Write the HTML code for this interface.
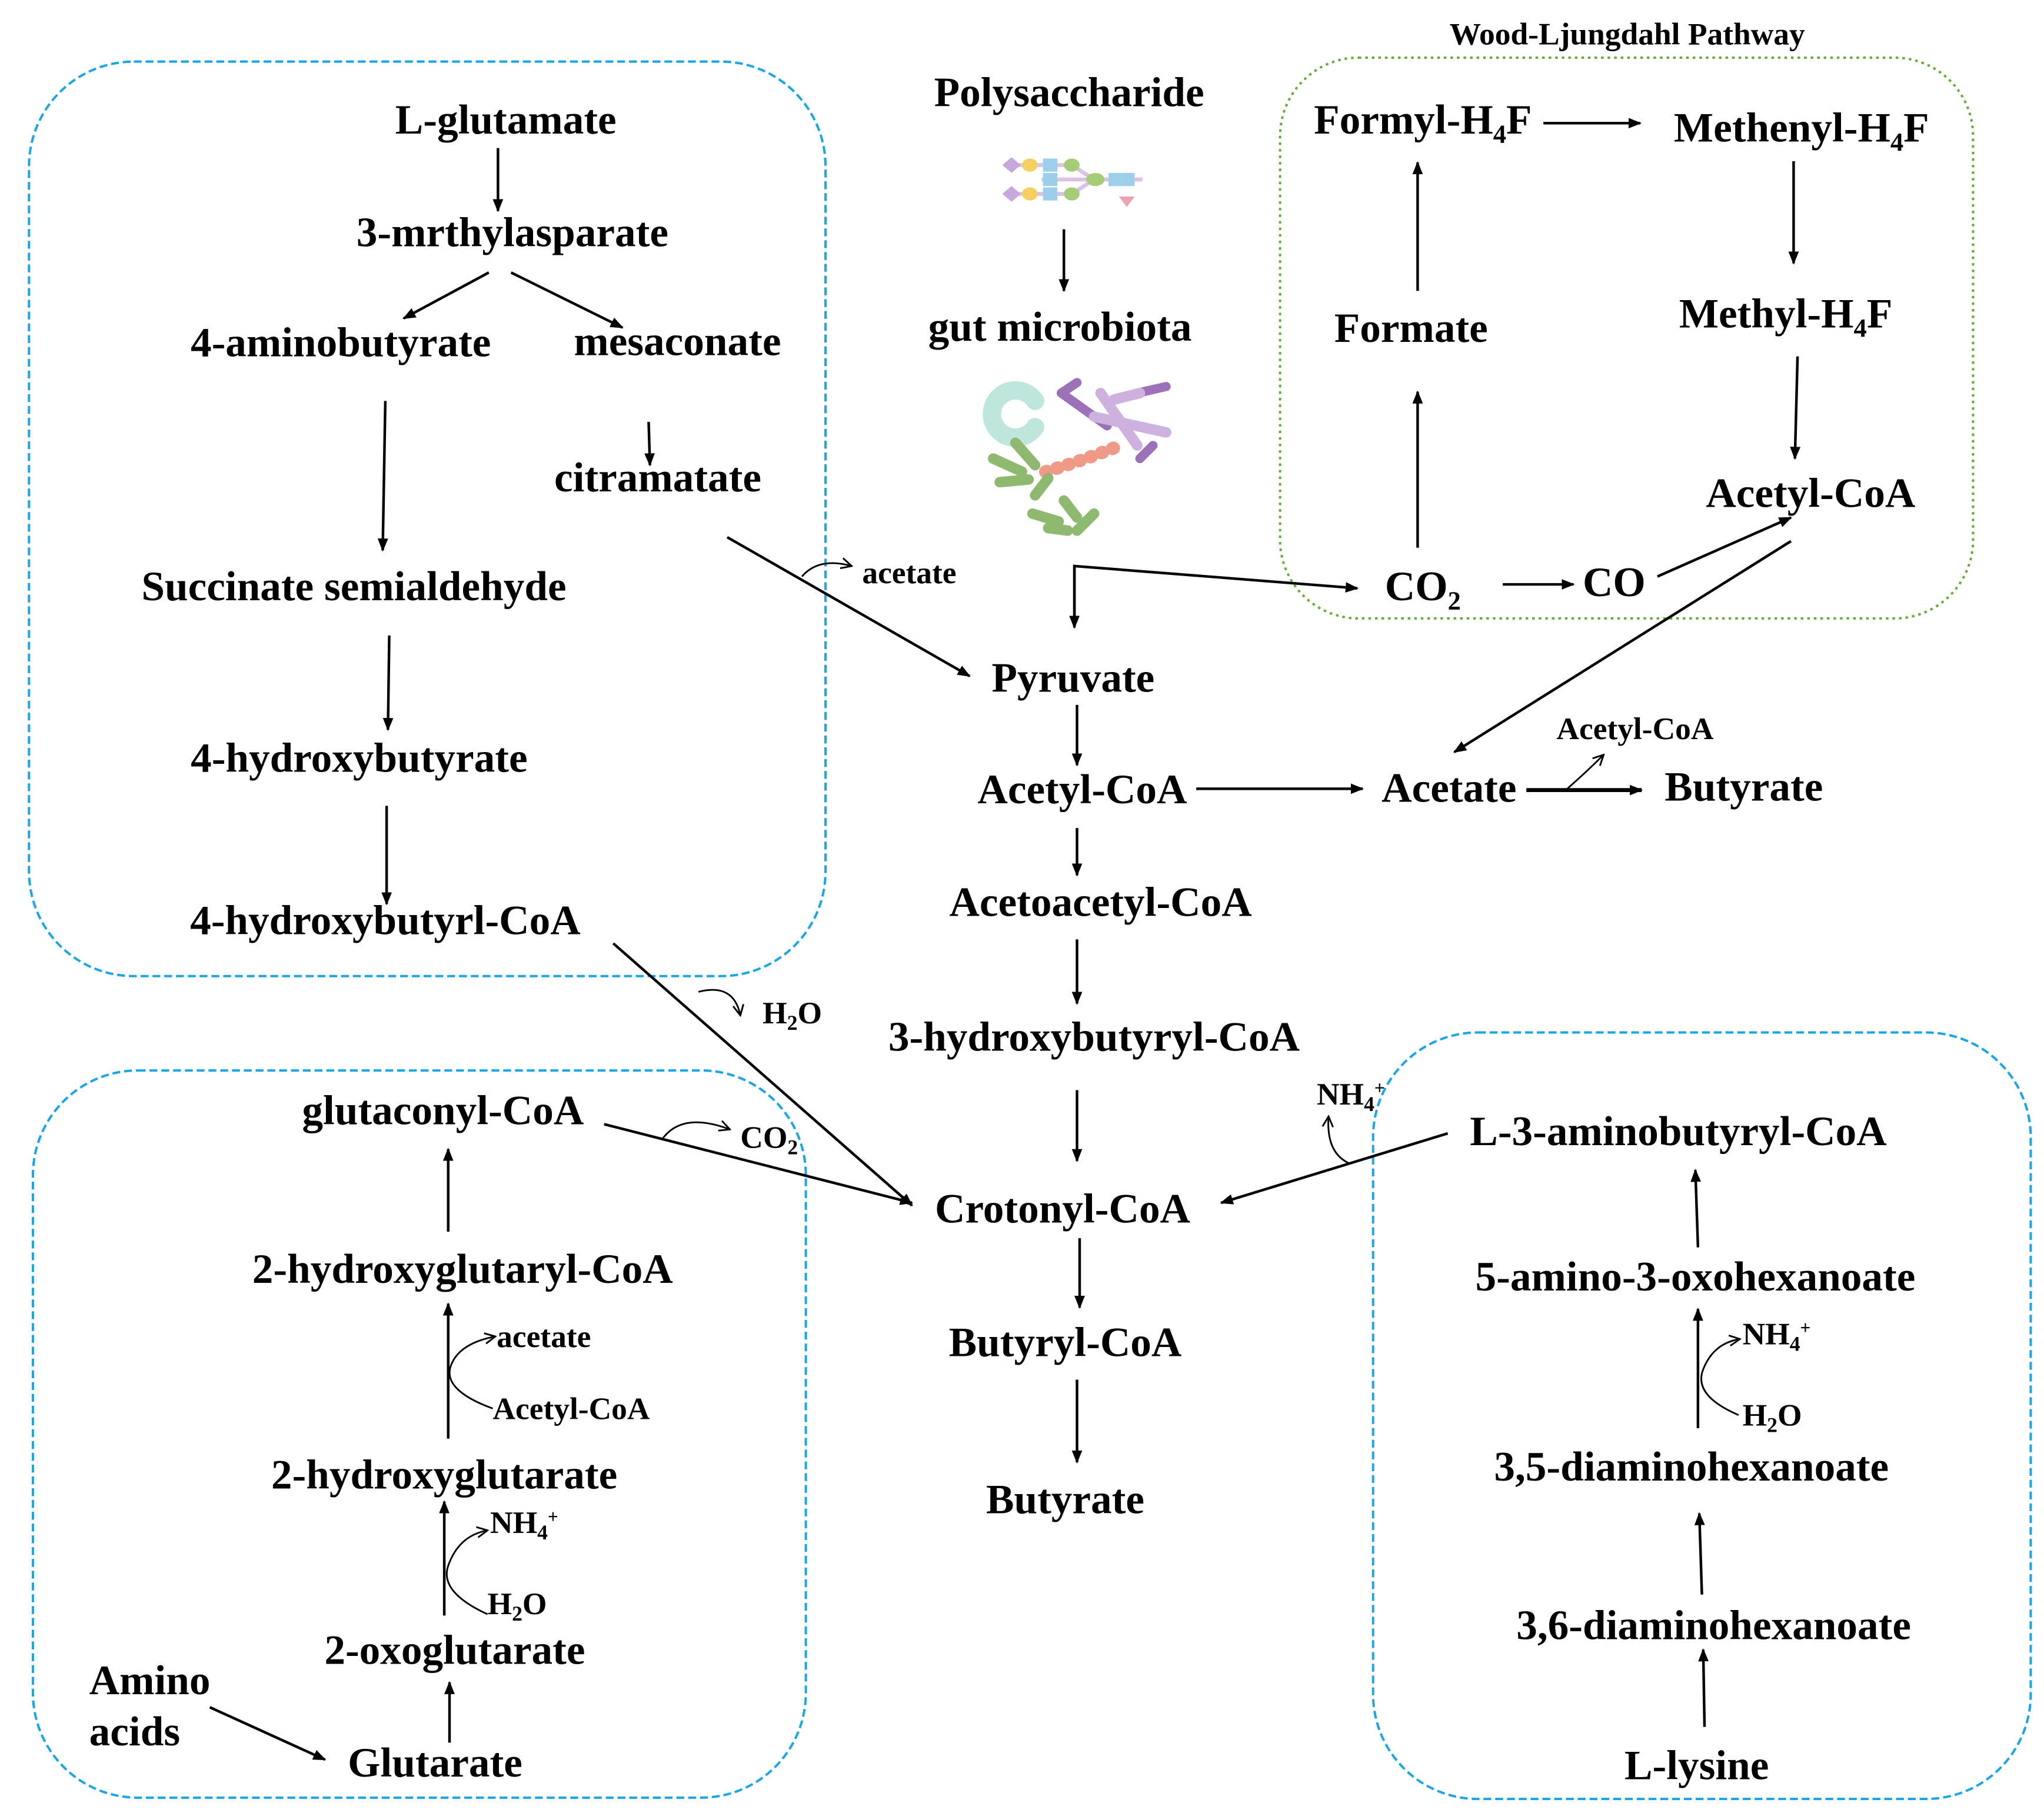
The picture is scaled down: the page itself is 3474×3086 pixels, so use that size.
<!DOCTYPE html>
<html><head><meta charset="utf-8"><style>
html,body{margin:0;padding:0;background:#fff;}
svg{display:block;}
text{font-family:"Liberation Serif",serif;font-weight:bold;fill:#000;}
</style></head><body>
<svg width="3474" height="3086" viewBox="0 0 1560 1386" xmlns="http://www.w3.org/2000/svg">
<defs>
<marker id="a" markerWidth="10" markerHeight="10" refX="9" refY="5" orient="auto" markerUnits="userSpaceOnUse" viewBox="0 0 10 10"><path d="M0,1 L10,5 L0,9 z" fill="#000"/></marker>
<marker id="o" markerWidth="10" markerHeight="10" refX="9" refY="5" orient="auto" markerUnits="userSpaceOnUse" viewBox="0 0 10 10"><path d="M1,1 L9,5 L1,9" fill="none" stroke="#000" stroke-width="1.3"/></marker>
</defs>
<!-- boxes -->
<g fill="none" stroke="#1aa6e6" stroke-width="1.8" stroke-dasharray="6,3">
<rect x="22" y="47" width="608" height="698" rx="80"/>
<rect x="25" y="817" width="590" height="555" rx="80"/>
<rect x="1048" y="788" width="502" height="585" rx="80"/>
</g>
<rect x="977" y="44" width="529" height="428" rx="60" fill="none" stroke="#6aaa3a" stroke-width="1.8" stroke-dasharray="2,3"/>
<text x="1242" y="34" font-size="24" text-anchor="middle">Wood-Ljungdahl Pathway</text>

<g font-size="32" text-anchor="middle">
<text x="386" y="102">L-glutamate</text>
<text x="391" y="188">3-mrthylasparate</text>
<text x="260" y="272">4-aminobutyrate</text>
<text x="517" y="271">mesaconate</text>
<text x="502" y="375">citramatate</text>
<text x="270" y="458">Succinate semialdehyde</text>
<text x="274" y="589">4-hydroxybutyrate</text>
<text x="294" y="713">4-hydroxybutyrl-CoA</text>
<text x="816" y="81">Polysaccharide</text>
<text x="809" y="260">gut microbiota</text>
<text x="819" y="528">Pyruvate</text>
<text x="826" y="613">Acetyl-CoA</text>
<text x="1106" y="612">Acetate</text>
<text x="1331" y="611">Butyrate</text>
<text x="840" y="699">Acetoacetyl-CoA</text>
<text x="835" y="802">3-hydroxybutyryl-CoA</text>
<text x="811" y="933">Crotonyl-CoA</text>
<text x="813" y="1035">Butyryl-CoA</text>
<text x="813" y="1155">Butyrate</text>
<text x="1086" y="102">Formyl-H<tspan font-size="20" dy="7">4</tspan><tspan dy="-7">F</tspan></text>
<text x="1375" y="108">Methenyl-H<tspan font-size="20" dy="7">4</tspan><tspan dy="-7">F</tspan></text>
<text x="1077" y="261">Formate</text>
<text x="1363" y="250">Methyl-H<tspan font-size="20" dy="7">4</tspan><tspan dy="-7">F</tspan></text>
<text x="1382" y="387">Acetyl-CoA</text>
<text x="1086" y="458">CO<tspan font-size="20" dy="7">2</tspan></text>
<text x="1232" y="455">CO</text>
<text x="338" y="858">glutaconyl-CoA</text>
<text x="353" y="979">2-hydroxyglutaryl-CoA</text>
<text x="339" y="1136">2-hydroxyglutarate</text>
<text x="347" y="1270">2-oxoglutarate</text>
<text x="332" y="1356">Glutarate</text>
<text x="1281" y="874">L-3-aminobutyryl-CoA</text>
<text x="1294" y="985">5-amino-3-oxohexanoate</text>
<text x="1291" y="1130">3,5-diaminohexanoate</text>
<text x="1308" y="1251">3,6-diaminohexanoate</text>
<text x="1295" y="1358">L-lysine</text>
</g>
<text x="68" y="1293" font-size="32">Amino</text>
<text x="68" y="1332" font-size="32">acids</text>

<g font-size="24">
<text x="658" y="445">acetate</text>
<text x="582" y="781">H<tspan font-size="16" dy="5">2</tspan><tspan dy="-5">O</tspan></text>
<text x="565" y="876">CO<tspan font-size="16" dy="5">2</tspan></text>
<text x="379" y="1028">acetate</text>
<text x="376" y="1083">Acetyl-CoA</text>
<text x="374" y="1170">NH<tspan font-size="16" dy="5">4</tspan><tspan font-size="14" dy="-13">+</tspan></text>
<text x="372" y="1232">H<tspan font-size="16" dy="5">2</tspan><tspan dy="-5">O</tspan></text>
<text x="1005" y="843">NH<tspan font-size="16" dy="5">4</tspan><tspan font-size="14" dy="-13">+</tspan></text>
<text x="1330" y="1026">NH<tspan font-size="16" dy="5">4</tspan><tspan font-size="14" dy="-13">+</tspan></text>
<text x="1330" y="1088">H<tspan font-size="16" dy="5">2</tspan><tspan dy="-5">O</tspan></text>
<text x="1188" y="564">Acetyl-CoA</text>
</g>

<!-- arrows -->
<g stroke="#000" stroke-width="2" fill="none" marker-end="url(#a)">
<line x1="380" y1="113" x2="380" y2="161"/>
<line x1="373" y1="208" x2="308" y2="243"/>
<line x1="390" y1="208" x2="475" y2="250"/>
<line x1="294" y1="306" x2="292" y2="420"/>
<line x1="495" y1="322" x2="496" y2="355"/>
<line x1="297" y1="485" x2="296" y2="557"/>
<line x1="295" y1="615" x2="295" y2="690"/>
<line x1="555" y1="410" x2="740" y2="516"/>
<line x1="812" y1="175" x2="812" y2="222"/>
<path d="M820,478 L820,432 L1036,449" marker-end="url(#a)"/>
<line x1="820" y1="432" x2="820" y2="479"/>
<line x1="822" y1="538" x2="822" y2="584"/>
<line x1="913" y1="602" x2="1040" y2="602"/>
<line x1="1165" y1="603" x2="1253" y2="603" stroke-width="3"/>
<line x1="822" y1="632" x2="822" y2="668"/>
<line x1="822" y1="717" x2="822" y2="766"/>
<line x1="822" y1="832" x2="822" y2="886"/>
<line x1="824" y1="945" x2="824" y2="998"/>
<line x1="822" y1="1053" x2="822" y2="1116"/>
<line x1="1082" y1="222" x2="1082" y2="124"/>
<line x1="1082" y1="418" x2="1082" y2="299"/>
<line x1="1178" y1="94" x2="1252" y2="94"/>
<line x1="1369" y1="123" x2="1369" y2="201"/>
<line x1="1372" y1="272" x2="1370" y2="350"/>
<line x1="1265" y1="440" x2="1367" y2="395"/>
<line x1="1367" y1="413" x2="1110" y2="574"/>
<line x1="1147" y1="446" x2="1201" y2="446"/>
<line x1="468" y1="720" x2="696" y2="920"/>
<line x1="461" y1="858" x2="696" y2="918"/>
<line x1="1105" y1="865" x2="932" y2="918"/>
<line x1="342" y1="940" x2="342" y2="877"/>
<line x1="342" y1="1098" x2="342" y2="995"/>
<line x1="339" y1="1233" x2="339" y2="1146"/>
<line x1="343" y1="1330" x2="343" y2="1284"/>
<line x1="160" y1="1303" x2="248" y2="1343"/>
<line x1="1296" y1="952" x2="1294" y2="893"/>
<line x1="1296" y1="1090" x2="1296" y2="999"/>
<line x1="1299" y1="1217" x2="1297" y2="1155"/>
<line x1="1301" y1="1318" x2="1300" y2="1259"/>
</g>
<!-- small curved arrows -->
<g stroke="#000" stroke-width="1.3" fill="none" marker-end="url(#o)">
<path d="M612,440 Q625,425 650,432"/>
<path d="M1195,603 Q1210,590 1224,576"/>
<path d="M533,757 Q560,750 565,775"/>
<path d="M505,870 Q520,848 557,862"/>
<path d="M1030,888 Q1012,880 1014,852"/>
<path d="M376,1075 Q335,1060 345,1040 Q352,1025 378,1020"/>
<path d="M372,1232 Q335,1215 342,1195 Q350,1172 372,1168"/>
<path d="M1327,1080 Q1292,1065 1300,1045 Q1308,1025 1328,1022"/>
</g>

<!-- polysaccharide icon -->
<g>
<line x1="770" y1="126" x2="818" y2="126" stroke="#d9c2e6" stroke-width="3"/>
<line x1="770" y1="148" x2="818" y2="148" stroke="#d9c2e6" stroke-width="3"/>
<line x1="818" y1="126" x2="835" y2="137" stroke="#d9c2e6" stroke-width="3"/>
<line x1="818" y1="148" x2="835" y2="137" stroke="#d9c2e6" stroke-width="3"/>
<line x1="795" y1="137" x2="872" y2="137" stroke="#d9c2e6" stroke-width="3"/>
<path d="M765,126 l7,-6 l7,6 l-7,6z M765,148 l7,-6 l7,6 l-7,6z" fill="#c9a6dc"/>
<ellipse cx="786" cy="126" rx="6" ry="5" fill="#f5d060"/><ellipse cx="786" cy="148" rx="6" ry="5" fill="#f5d060"/>
<rect x="796" y="121" width="11" height="10" fill="#9cd0ea"/><rect x="796" y="143" width="11" height="10" fill="#9cd0ea"/>
<rect x="796" y="132" width="11" height="10" fill="#9cd0ea"/>
<ellipse cx="818" cy="126" rx="6" ry="5" fill="#a6cc78"/><ellipse cx="818" cy="148" rx="6" ry="5" fill="#a6cc78"/>
<ellipse cx="836" cy="137" rx="7" ry="5" fill="#a6cc78"/>
<rect x="846" y="132" width="10" height="10" fill="#9cd0ea"/><rect x="856" y="132" width="10" height="10" fill="#9cd0ea"/>
<path d="M854,150 h12 l-6,8z" fill="#f2a0b0"/>
</g>
<!-- microbiota icon -->
<g stroke-linecap="round">
<path d="M790,326 A18,18 0 1,1 790,306" stroke="#bfe6dc" stroke-width="14" fill="none"/>
<g stroke="#9b72b8" stroke-width="7"><line x1="810" y1="300" x2="845" y2="325"/><line x1="810" y1="300" x2="822" y2="292"/><line x1="868" y1="300" x2="890" y2="295"/><line x1="880" y1="340" x2="870" y2="350"/></g>
<g stroke="#cdb2e0" stroke-width="8"><line x1="840" y1="300" x2="868" y2="340"/><line x1="835" y1="318" x2="890" y2="330"/><line x1="850" y1="305" x2="870" y2="300"/></g>
<g stroke="#ef9a86" stroke-width="10" stroke-dasharray="1,8"><path d="M798,360 Q825,352 855,340"/></g>
<g stroke="#8fb870" stroke-width="8"><line x1="758" y1="350" x2="780" y2="360"/><line x1="775" y1="338" x2="790" y2="355"/><line x1="763" y1="368" x2="785" y2="366"/><line x1="790" y1="378" x2="800" y2="365"/><line x1="788" y1="392" x2="808" y2="398"/><line x1="800" y1="403" x2="815" y2="405"/><line x1="812" y1="382" x2="822" y2="395"/><line x1="822" y1="405" x2="835" y2="392"/></g>
</g>
</svg>
</body></html>
